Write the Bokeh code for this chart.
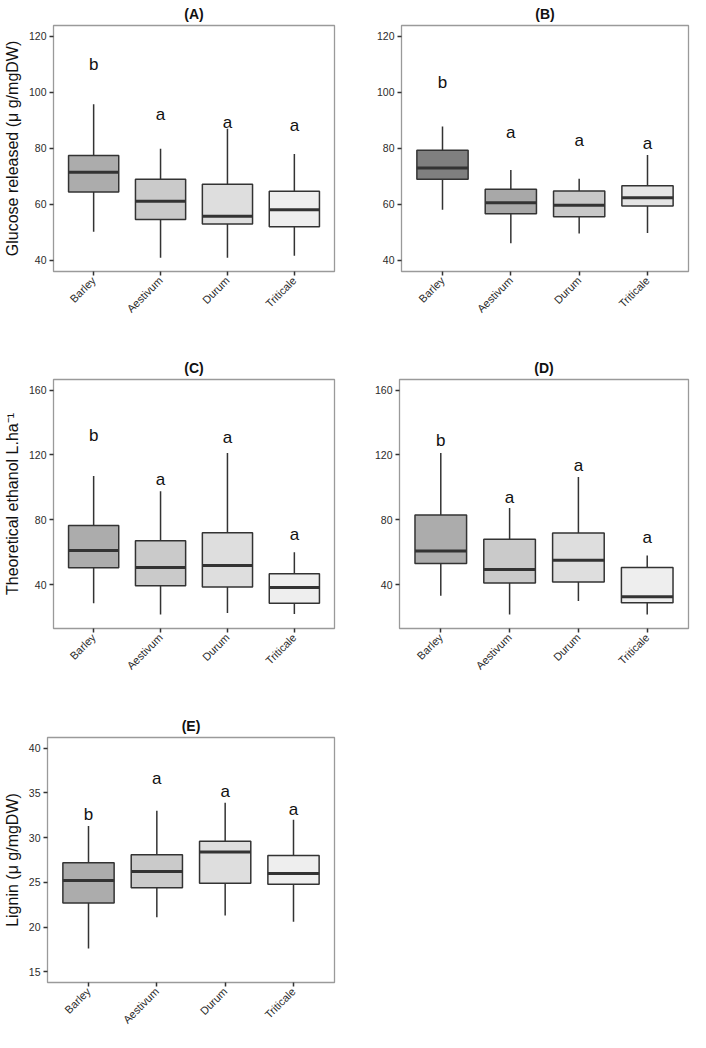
import math
import numpy as np
from bokeh.plotting import figure
from bokeh.layouts import column, row
from bokeh.models import Range1d, FixedTicker
from bokeh.core.properties import value
from bokeh.embed import file_html
from bokeh.resources import INLINE

FONT = "Liberation Sans"

categories = ["Barley", "Aestivum", "Durum", "Triticale"]

# Panel A: glucose released (set 1)
A_low = [50.1, 40.8, 40.8, 41.5]
A_q1 = [64.3, 54.5, 52.9, 51.9]
A_med = [71.4, 61.0, 55.7, 58.0]
A_q3 = [77.4, 68.9, 67.1, 64.6]
A_high = [95.7, 79.8, 87.0, 77.9]
A_letters = ["b", "a", "a", "a"]
A_letter_y = [110.0, 92.2, 89.3, 88.1]

# Panel B: glucose released (set 2)
B_low = [58.0, 46.0, 49.5, 49.7]
B_q1 = [68.9, 56.6, 55.5, 59.3]
B_med = [72.9, 60.5, 59.6, 62.3]
B_q3 = [79.3, 65.3, 64.7, 66.6]
B_high = [87.8, 72.2, 69.1, 77.6]
B_letters = ["b", "a", "a", "a"]
B_letter_y = [103.6, 85.8, 82.9, 81.7]

# Panel C: theoretical ethanol (set 1)
C_low = [28.7, 21.8, 22.6, 22.0]
C_q1 = [50.5, 39.4, 38.6, 28.7]
C_med = [61.2, 50.7, 51.9, 38.4]
C_q3 = [76.6, 67.1, 72.1, 46.9]
C_high = [107.1, 97.6, 121.2, 60.0]
C_letters = ["b", "a", "a", "a"]
C_letter_y = [132.3, 105.1, 130.7, 71.3]

# Panel D: theoretical ethanol (set 2)
D_low = [33.3, 21.8, 30.1, 21.8]
D_q1 = [53.1, 41.2, 41.8, 28.9]
D_med = [60.8, 49.5, 55.2, 32.7]
D_q3 = [83.0, 68.1, 71.9, 50.7]
D_high = [121.2, 87.3, 106.5, 58.0]
D_letters = ["b", "a", "a", "a"]
D_letter_y = [128.7, 94.1, 113.6, 68.9]

# Panel E: lignin
E_low = [17.6, 21.1, 21.3, 20.6]
E_q1 = [22.7, 24.4, 24.9, 24.8]
E_med = [25.2, 26.2, 28.4, 26.0]
E_q3 = [27.2, 28.1, 29.6, 28.0]
E_high = [31.3, 33.0, 33.9, 32.0]
E_letters = ["b", "a", "a", "a"]
E_letter_y = [32.6, 36.6, 35.2, 33.2]

fills_light = ["#acacac", "#cacaca", "#dedede", "#eeeeee"]
fills_dark = ["#7f7f7f", "#a8a8a8", "#c8c8c8", "#e5e5e5"]

ticks_glucose = [40, 60, 80, 100, 120]
ticks_ethanol = [40, 80, 120, 160]
ticks_lignin = [15, 20, 25, 30, 35, 40]


def make_panel(title, low, q1, med, q3, high, letters, letter_y, fills,
               yr, yticks, ylabel, W, H, L, R, T, B):
    p = figure(width=W, height=H, output_backend="svg", toolbar_location=None,
               min_border_left=L, min_border_right=R, min_border_top=T,
               min_border_bottom=B, x_range=Range1d(0.4, 4.6),
               y_range=Range1d(*yr))
    p.title.text = title
    p.title.align = "center"
    p.title.text_font = FONT
    p.title.text_font_size = "14px"
    p.title.text_font_style = "bold"
    p.title.text_color = "#111111"
    p.title.standoff = 7
    p.outline_line_color = "#9a9a9a"
    p.outline_line_width = 1.3
    p.background_fill_color = "white"
    p.border_fill_color = "white"
    p.xgrid.visible = False
    p.ygrid.visible = False

    xs = np.arange(1, len(categories) + 1, dtype=float)
    half = 0.75 / 2
    p.segment(x0=xs, y0=low, x1=xs, y1=high, line_color="#333333", line_width=1.5)
    p.vbar(x=xs, width=0.75, bottom=q1, top=q3, fill_color=fills,
           line_color="#333333", line_width=1.5)
    p.segment(x0=xs - half, y0=med, x1=xs + half, y1=med,
              line_color="#333333", line_width=3)
    p.text(x=xs, y=letter_y, text=letters, text_align="center",
           text_baseline="alphabetic", text_font=value(FONT),
           text_font_size="17px", text_color="#111111")

    for ax in (p.xaxis[0], p.yaxis[0]):
        ax.axis_line_color = None
        ax.major_tick_line_color = "#333333"
        ax.major_tick_line_width = 1.5
        ax.major_tick_out = 4
        ax.major_tick_in = 0
        ax.minor_tick_line_color = None
        ax.major_label_text_font = FONT
        ax.major_label_text_color = "#2b2b2b"
        ax.major_label_standoff = 3
    p.xaxis[0].ticker = FixedTicker(ticks=list(xs))
    p.xaxis[0].major_label_overrides = {float(x): c for x, c in zip(xs, categories)}
    p.xaxis[0].major_label_orientation = math.pi / 4
    p.xaxis[0].major_label_text_font_size = "11px"
    p.yaxis[0].ticker = FixedTicker(ticks=yticks)
    p.yaxis[0].major_label_text_font_size = "10.5px"
    if ylabel:
        p.yaxis[0].axis_label = ylabel
        p.yaxis[0].axis_label_text_font = FONT
        p.yaxis[0].axis_label_text_font_size = "16px"
        p.yaxis[0].axis_label_text_font_style = "normal"
        p.yaxis[0].axis_label_text_color = "#111111"
        p.yaxis[0].axis_label_standoff = 5
    return p


pA = make_panel("(A)", A_low, A_q1, A_med, A_q3, A_high, A_letters, A_letter_y,
                fills_light, (35.9, 123.9), ticks_glucose,
                "Glucose released (\u03bc g/mgDW)", 361, 348, 48, 27, 22, 77)
pB = make_panel("(B)", B_low, B_q1, B_med, B_q3, B_high, B_letters, B_letter_y,
                fills_dark, (35.9, 123.9), ticks_glucose, None,
                329, 348, 40, 2, 22, 77)
pC = make_panel("(C)", C_low, C_q1, C_med, C_q3, C_high, C_letters, C_letter_y,
                fills_light, (13.1, 166.5), ticks_ethanol,
                "Theoretical ethanol L.ha\u207b\u00b9", 357, 356, 49, 23, 31, 76)
pD = make_panel("(D)", D_low, D_q1, D_med, D_q3, D_high, D_letters, D_letter_y,
                fills_light, (13.1, 166.5), ticks_ethanol, None,
                333, 356, 42, 2, 31, 76)
pE = make_panel("(E)", E_low, E_q1, E_med, E_q3, E_high, E_letters, E_letter_y,
                fills_light, (13.8, 41.2), ticks_lignin,
                "Lignin (\u03bc g/mgDW)", 344, 328, 41, 10, 33, 46)

layout = column(row(pA, pB), row(pC, pD), pE)
open("out.html", "w").write(file_html(layout, INLINE))
